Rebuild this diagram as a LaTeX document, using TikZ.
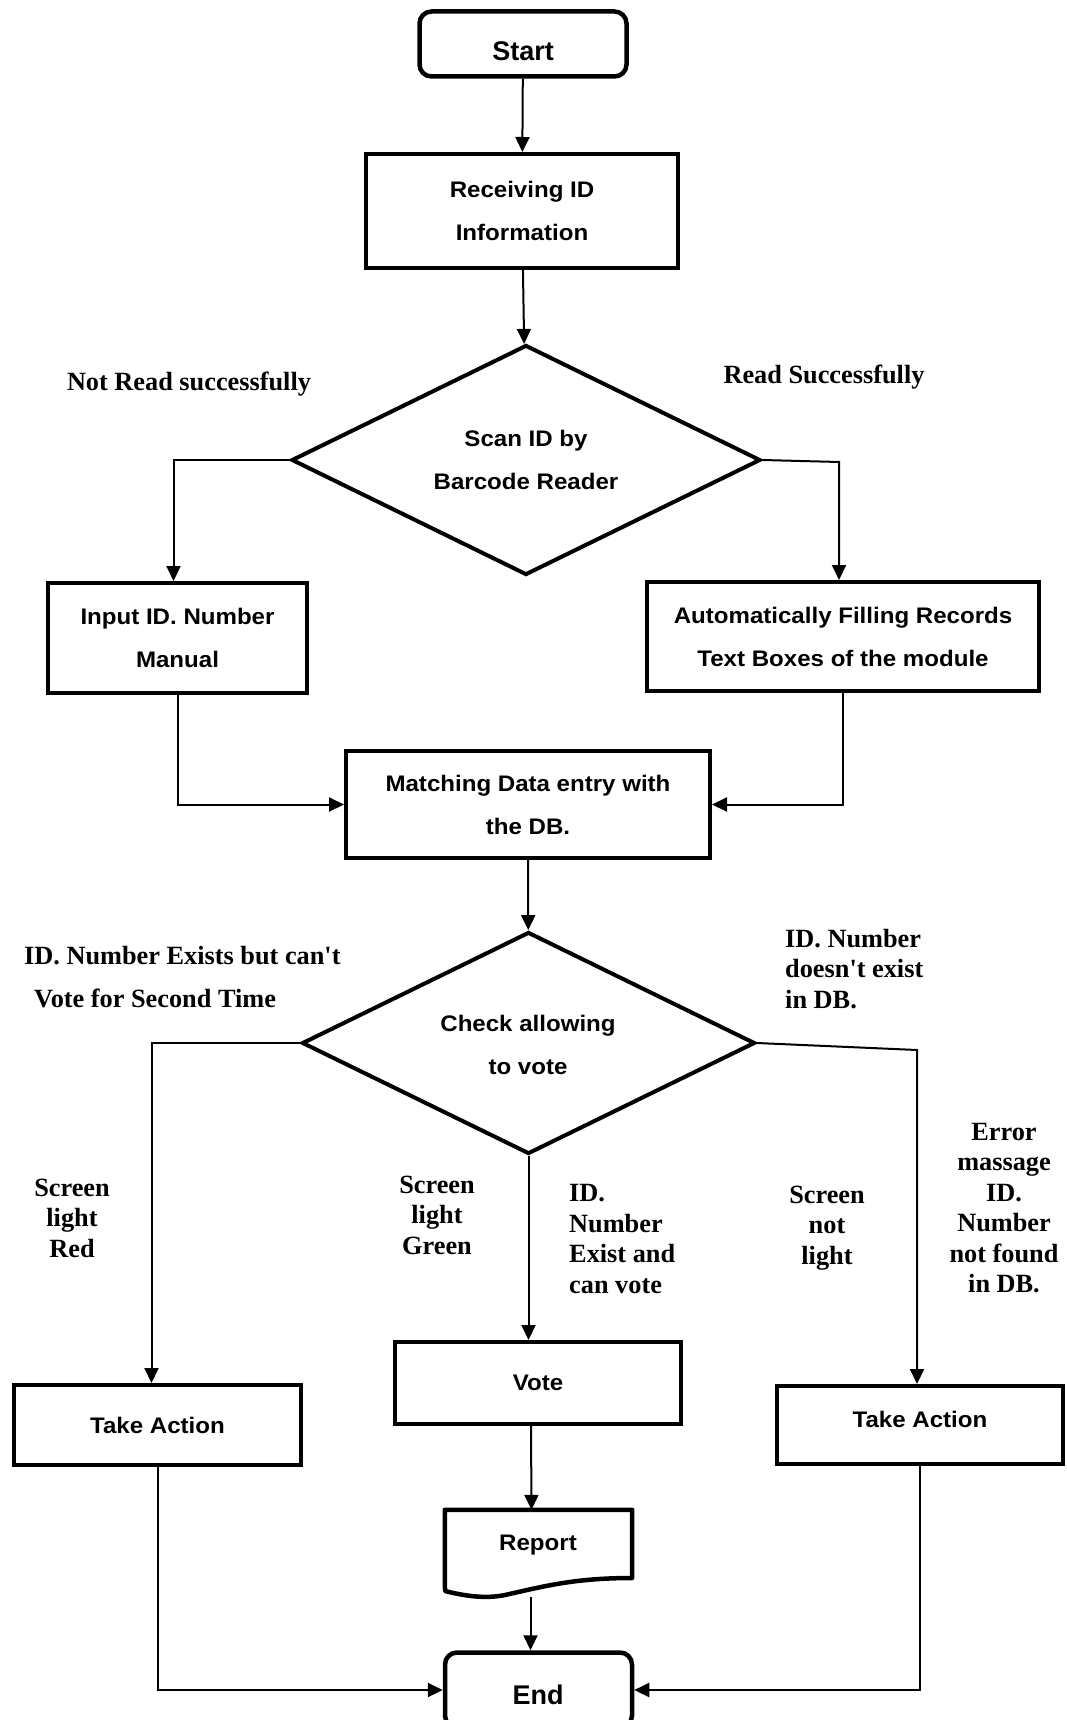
\documentclass[tikz,border=0pt]{standalone}
\usepackage{fontspec}
\setmainfont{Liberation Serif}[Ligatures=TeXOff]
\setsansfont{Liberation Sans}
\newfontfamily\boxfont{Liberation Sans}[FakeStretch=1.07]
\usetikzlibrary{shapes.geometric,arrows.meta,calc}

\begin{document}
\begin{tikzpicture}[x=1pt,y=-1pt,
  boxtext/.style={font=\boxfont\bfseries\fontsize{22.5}{43}\selectfont, align=center},
  stepbox/.style={draw, line width=4pt, rectangle, inner sep=0pt, boxtext},
  termbox/.style={draw, line width=4.5pt, rectangle, rounded corners=12pt, inner sep=0pt},
  termtext/.style={font=\sffamily\bfseries\fontsize{27}{32}\selectfont},
  decision/.style={draw, line width=4pt, diamond, inner sep=0pt},
  lbl/.style={font=\rmfamily\bfseries\fontsize{26.3}{30.5}\selectfont, inner sep=0pt},
  arr/.style={line width=2pt, -{Triangle[length=15pt,width=14pt]}}]

\fill[white] (0,0) rectangle (1067,1720);
\useasboundingbox (0,0) rectangle (1067,1720);

% process nodes
\node[termbox, minimum width=207pt, minimum height=65pt] (start) at (523,44) {};
\node[termtext] (starttext) at (523,51) {Start};
\node[stepbox, minimum width=312pt, minimum height=114pt] (recv) at (522,211) {Receiving ID\\Information};
\node[decision, minimum width=469pt, minimum height=230pt] (d1) at (526,460) {};
\node[boxtext] (d1text) at (526,460) {Scan ID by\\Barcode Reader};
\node[stepbox, minimum width=259pt, minimum height=110pt] (inp) at (177.5,638) {Input ID. Number\\Manual};
\node[stepbox, minimum width=392pt, minimum height=109pt] (auto) at (843,636.5) {Automatically Filling Records\\Text Boxes of the module};
\node[stepbox, minimum width=364pt, minimum height=107pt] (match) at (528,804.5) {Matching Data entry with\\the DB.};
\node[decision, minimum width=453pt, minimum height=222pt] (d2) at (528.5,1043) {};
\node[boxtext] (d2text) at (528,1045) {Check allowing\\to vote};
\node[stepbox, minimum width=287pt, minimum height=80pt] (tl) at (157.5,1425) {Take Action};
\node[stepbox, minimum width=286pt, minimum height=82pt] (vote) at (538,1383) {Vote};
\node[stepbox, minimum width=286pt, minimum height=78pt] (tr) at (920,1425) {};
\node[boxtext] (trtext) at (920,1419) {Take Action};

% document shape for the report
\node[minimum width=187pt, minimum height=87pt, inner sep=0pt] (rep) at (538.5,1553.5) {};
\draw[line width=4.5pt, line join=round]
  (rep.north west) -- (rep.north east) -- (632,1578)
  .. controls (575,1578) and (545,1586) .. (505,1595)
  .. controls (485,1599) and (465,1596) .. (445,1591) -- cycle;
\node[boxtext] (reptext) at (538,1545) {Report};

\node[termbox, minimum width=187pt, minimum height=75pt] (end) at (538.5,1690) {};
\node[termtext] (endtext) at (538,1695) {End};

% branch labels
\node[lbl] (nr) at (189,384) {Not Read successfully};
\node[lbl] (rs) at (824,377) {Read Successfully};
\node[lbl, anchor=west] (ex1) at (24,956) {ID. Number Exists but can't};
\node[lbl, anchor=west] (ex2) at (34,998) {Vote for Second Time};
\node[lbl, anchor=west, align=left] (dne) at (785,969) {ID. Number\\doesn't exist\\in DB.};
\node[lbl, align=center] (red) at (72,1218) {Screen\\light\\Red};
\node[lbl, align=center] (green) at (437,1215) {Screen\\light\\Green};
\node[lbl, anchor=west, align=left] (canv) at (569,1239) {ID.\\Number\\Exist and\\can vote};
\node[lbl, align=center] (notl) at (827,1228) {Screen\\not\\light};
\node[lbl, align=center] (err) at (1004,1208) {Error\\massage\\ID.\\Number\\not found\\in DB.};

% connectors
\coordinate (rc1) at (839,462);
\coordinate (rc2) at (917,1050);
\draw[arr] (start) -- (recv);
\draw[arr] (recv) -- (d1);
\draw[arr] (d1.west) -| ($(inp.north)+(-4,0)$);
\draw[arr] (d1.east) -- (rc1) -- (rc1 |- auto.north);
\draw[arr] (inp.south) |- (match.west);
\draw[arr] (auto.south) |- (match.east);
\draw[arr] (match) -- (d2);
\draw[arr] (d2.west) -| ($(tl.north)+(-6,0)$);
\draw[arr] (d2.east) -- (rc2) -- (rc2 |- tr.north);
\draw[arr] (d2.south) -- (d2.south |- vote.north);
\draw[arr] ($(vote.south)+(-7,0)$) -- ($(rep.north)+(-7,0)$);
\draw[arr] ($(rep.south)+(-8,0)$) -- ($(end.north)+(-8,0)$);
\draw[arr] (tl.south) |- (end.west);
\draw[arr] (tr.south) |- (end.east);
\end{tikzpicture}
\end{document}
